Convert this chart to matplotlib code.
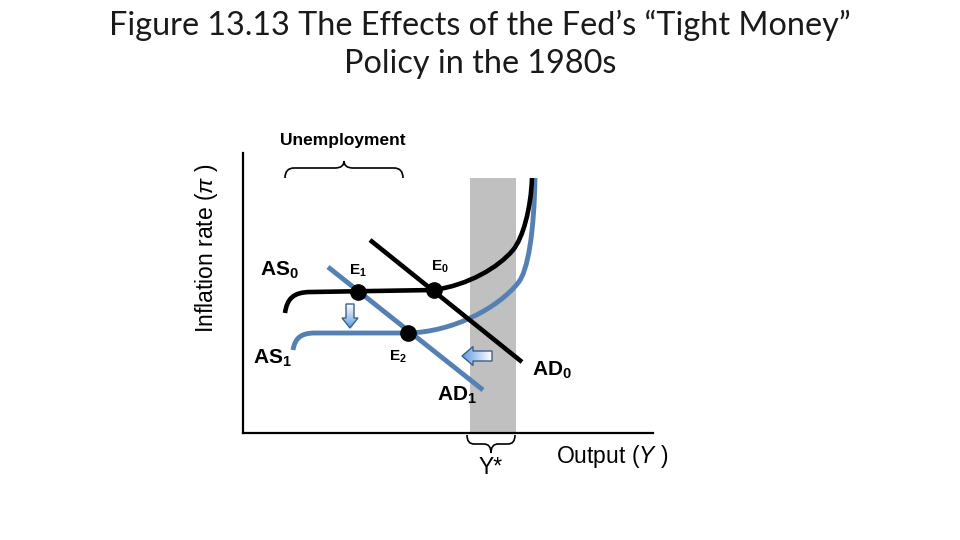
import numpy as np
import matplotlib
matplotlib.use('Agg')
import matplotlib.pyplot as plt
import matplotlib.path as mpath
import matplotlib.patches as mpatches
import matplotlib.colors as mcolors

plt.rcParams['font.family'] = ['Liberation Sans', 'DejaVu Sans']
plt.rcParams['mathtext.fontset'] = 'custom'
plt.rcParams['mathtext.rm'] = 'Liberation Sans'
plt.rcParams['mathtext.it'] = 'Liberation Sans:italic'
plt.rcParams['mathtext.bf'] = 'Liberation Sans:bold'

# ─── 数据（示意图坐标：横轴 0–410，纵轴 0–280，无刻度） ─────────────────
TITLE_LINES = ['Figure 13.13 The Effects of the Fed’s “Tight Money”', 'Policy in the 1980s']

# AD 直线（两端点）
AD0_X = [127, 279]
AD0_Y = [193, 71]
AD1_X = [85, 240]
AD1_Y = [166, 43]

# AS 曲线（Bezier 控制点：起弯 → 平段 → 两段上翘）
AS0_X = [42, 44, 50, 68, 191, 225, 255, 270, 280, 288, 289]
AS0_Y = [120, 134, 141, 141, 143, 148, 165, 183, 195, 225, 255]
AS1_X = [50, 52, 58, 72, 165, 210, 255, 275, 285, 291, 292]
AS1_Y = [83, 95, 100, 100, 100, 101, 125, 150, 162, 200, 255]

# 均衡点
EQ_LABELS = ['E_1', 'E_0', 'E_2']
EQ_X = [115, 191, 165]
EQ_Y = [141, 143, 100]

# 潜在产出区间 Y*
YSTAR_LO, YSTAR_HI, YSTAR_TOP = 227, 273, 255
# 失业区间
UNEMP_LO, UNEMP_HI = 42, 160

BLUE = '#5580b4'
GRAY = '#c0c0c0'


def bezier_path(xs, ys):
    codes = [mpath.Path.MOVETO] + [mpath.Path.CURVE4] * 3 + [mpath.Path.LINETO] + [mpath.Path.CURVE4] * 6
    return mpath.Path(np.column_stack([xs, ys]), codes)


def brace_path(x0, x1, y_end, y_mid, y_tip, r=9):
    xm = (x0 + x1) / 2
    P = mpath.Path
    verts = [(x0, y_end), (x0, y_mid), (x0 + r, y_mid), (xm - r, y_mid),
             (xm, y_mid), (xm, y_tip), (xm, y_mid), (xm + r, y_mid),
             (x1 - r, y_mid), (x1, y_mid), (x1, y_end)]
    codes = [P.MOVETO, P.CURVE3, P.CURVE3, P.LINETO, P.CURVE3, P.CURVE3,
             P.CURVE3, P.CURVE3, P.LINETO, P.CURVE3, P.CURVE3]
    return mpath.Path(verts, codes)


def gradient_arrow(ax, x, y, dx, dy, width, head_width, head_length):
    arr = mpatches.FancyArrow(x, y, dx, dy, width=width, head_width=head_width,
                              head_length=head_length, length_includes_head=True,
                              facecolor='none', edgecolor='#3d5f88', linewidth=1.0, zorder=6)
    ax.add_patch(arr)
    cmap = mcolors.LinearSegmentedColormap.from_list('g', ['#ffffff', '#5f9be0'])
    g = np.linspace(0, 1, 64)
    if dx != 0:
        img = g[None, :] if dx > 0 else g[::-1][None, :]
        ext = [min(x, x + dx), max(x, x + dx), y - head_width / 2, y + head_width / 2]
    else:
        img = g[:, None] if dy < 0 else g[::-1][:, None]
        ext = [x - head_width / 2, x + head_width / 2, min(y, y + dy), max(y, y + dy)]
    im = ax.imshow(img, cmap=cmap, extent=ext, origin='upper' if dx == 0 else 'lower',
                   aspect='auto', zorder=5, interpolation='bilinear')
    im.set_clip_path(arr)


fig = plt.figure(figsize=(9.6, 5.4), dpi=100)
for line, base_px in zip(TITLE_LINES, [35, 73]):
    fig.text(0.5, 1 - base_px / 540, line, ha='center', va='baseline', fontsize=23.3,
             family=['Lato', 'DejaVu Sans'], color='#1a1a1a')

ax = fig.add_axes([243 / 960, 107 / 540, 410 / 960, 280 / 540])
ax.set_xlim(0, 410)
ax.set_ylim(0, 280)
ax.set_xticks([])
ax.set_yticks([])
for s in ['top', 'right']:
    ax.spines[s].set_visible(False)
for s in ['left', 'bottom']:
    ax.spines[s].set_linewidth(1.6)

# Y* 灰带
ax.axvspan(YSTAR_LO, YSTAR_HI, ymin=0, ymax=YSTAR_TOP / 280, color=GRAY, lw=0, zorder=0)

# 曲线
ax.add_patch(mpatches.PathPatch(bezier_path(AS1_X, AS1_Y), fill=False, ec=BLUE, lw=3.5, capstyle='butt', zorder=2))
ax.plot(AD1_X, AD1_Y, color=BLUE, lw=3.5, solid_capstyle='butt', zorder=2)
ax.add_patch(mpatches.PathPatch(bezier_path(AS0_X, AS0_Y), fill=False, ec='black', lw=3.3, capstyle='butt', zorder=3))
ax.plot(AD0_X, AD0_Y, color='black', lw=3.3, solid_capstyle='butt', zorder=3)

ax.plot(EQ_X, EQ_Y, 'o', color='black', ms=11, zorder=7)

# 箭头
gradient_arrow(ax, 107, 129, 0, -24, 8, 16, 10)
gradient_arrow(ax, 249, 77, -30, 0, 10, 19, 11)

# 大括号
ax.add_patch(mpatches.PathPatch(brace_path(UNEMP_LO, UNEMP_HI, 255, 265, 272), fill=False,
                                ec='black', lw=1.2, clip_on=False))
ax.add_patch(mpatches.PathPatch(brace_path(YSTAR_LO - 3, YSTAR_HI - 1, -2, -11, -20, r=7), fill=False,
                                ec='black', lw=1.2, clip_on=False))

# 文字
ax.text(100, 292, 'Unemployment', ha='center', va='center', fontsize=12.5, fontweight='bold')
ax.text(-36, 185, r'Inflation rate ($\pi$ )', ha='center', va='center', rotation=90, fontsize=16.5)
ax.text(313, -24, r'Output ($Y$ )', ha='left', va='center', fontsize=16.5)
ax.text(248, -35, 'Y*', ha='center', va='center', fontsize=16.5)

ax.text(17, 163, r'$\mathbf{AS}_\mathbf{0}$', ha='left', va='center', fontsize=15)
ax.text(10, 75, r'$\mathbf{AS}_\mathbf{1}$', ha='left', va='center', fontsize=15)
ax.text(194, 38, r'$\mathbf{AD}_\mathbf{1}$', ha='left', va='center', fontsize=15)
ax.text(289, 63, r'$\mathbf{AD}_\mathbf{0}$', ha='left', va='center', fontsize=15)

eq_text_pos = [(115, 162), (197, 166), (155, 76)]
for lbl, (tx, ty) in zip(EQ_LABELS, eq_text_pos):
    ax.text(tx, ty, r'$\mathbf{%s}_\mathbf{%s}$' % tuple(lbl.split('_')), ha='center', va='center', fontsize=11)

fig.savefig('out.png', dpi=100)
